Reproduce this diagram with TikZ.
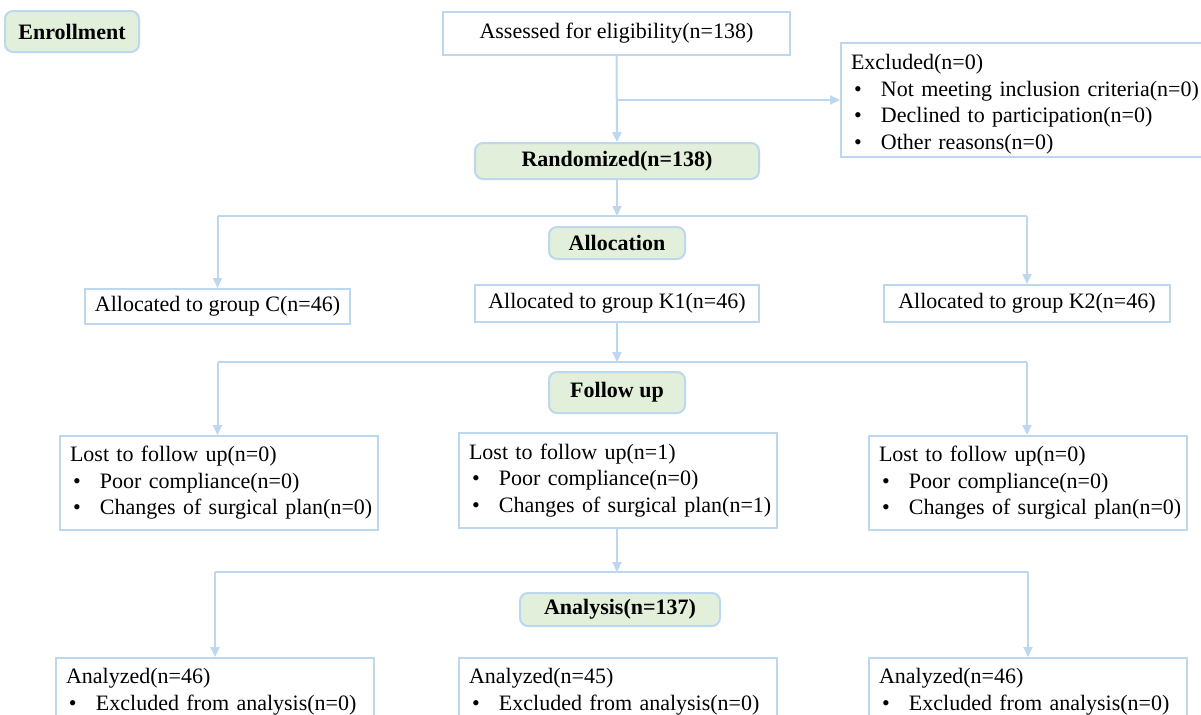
\documentclass[tikz,border=0pt]{standalone}
\usepackage{fontspec}
\setmainfont{Liberation Serif}
\usetikzlibrary{arrows.meta}
\definecolor{boxline}{RGB}{189,215,238}
\definecolor{stagefill}{RGB}{226,239,218}
\newcommand{\bitem}[1]{\\\makebox[15pt][l]{\hspace{1.5pt}\textbullet}\mbox{#1}}
\tikzset{
  box/.style={draw=boxline, line width=1pt, fill=white, inner xsep=5pt, inner ysep=2pt,
    font=\fontsize{11}{13.25}\selectfont},
  stage/.style={box, fill=stagefill, rounded corners=4pt,
    font=\fontsize{11}{13.25}\selectfont\bfseries},
  listbox/.style={box, align=left, anchor=north west, text width=149pt},
  link/.style={draw=boxline, line width=1pt},
  arr/.style={link, -{Triangle[length=5pt,width=4.5pt]}}
}
\begin{document}
\begin{tikzpicture}[x=0.5pt, y=-0.5pt]
  \useasboundingbox (0,0) rectangle (1201,714);
  \clip (0,0) rectangle (1201,714);
  % enrollment
  \node[stage, minimum width=67pt, minimum height=20.5pt] (enrol) at (72,31.5) {Enrollment};
  \node[box, minimum width=173.5pt, minimum height=21.5pt] (assess) at (616.5,33.5)
    {Assessed for eligibility(n=138)};
  \node[listbox, text width=175pt, inner ysep=0pt, minimum height=57pt] (excl) at (840,42)
    {\rule{0pt}{12pt}Excluded(n=0)\bitem{Not meeting inclusion criteria(n=0)}%
     \bitem{Declined to participation(n=0)}\bitem{Other reasons(n=0)}};
  \node[stage, minimum width=142pt, minimum height=18pt] (rand) at (617,161) {Randomized(n=138)};
  % allocation
  \node[stage, minimum width=68pt, minimum height=16pt] (alloc) at (617,243) {Allocation};
  \node[box, minimum width=131.5pt, minimum height=17.5pt] (grpC) at (217.5,306.5)
    {Allocated to group C(n=46)};
  \node[box, minimum width=142pt, minimum height=18.5pt] (grpK1) at (617,303.5)
    {Allocated to group K1(n=46)};
  \node[box, minimum width=143pt, minimum height=18.5pt] (grpK2) at (1027,303.5)
    {Allocated to group K2(n=46)};
  % follow up
  \node[stage, minimum width=68pt, minimum height=20.5pt] (follow) at (617,392.5) {Follow up};
  \node[listbox, minimum height=47pt] (lostC) at (59,435)
    {Lost to follow up(n=0)\bitem{Poor compliance(n=0)}\bitem{Changes of surgical plan(n=0)}};
  \node[listbox, minimum height=47.5pt] (lostK1) at (458,432)
    {Lost to follow up(n=1)\bitem{Poor compliance(n=0)}\bitem{Changes of surgical plan(n=1)}};
  \node[listbox, minimum height=47pt] (lostK2) at (868,435)
    {Lost to follow up(n=0)\bitem{Poor compliance(n=0)}\bitem{Changes of surgical plan(n=0)}};
  % analysis
  \node[stage, minimum width=100pt, minimum height=16.5pt] (analysis) at (620,609.5) {Analysis(n=137)};
  \node[listbox, minimum height=33.5pt] (anaC) at (55,657)
    {Analyzed(n=46)\bitem{Excluded from analysis(n=0)}};
  \node[listbox, minimum height=33.5pt] (anaK1) at (458,657)
    {Analyzed(n=45)\bitem{Excluded from analysis(n=0)}};
  \node[listbox, minimum height=33.5pt] (anaK2) at (868,657)
    {Analyzed(n=46)\bitem{Excluded from analysis(n=0)}};
  % connectors
  \coordinate (split1) at (617,216);
  \coordinate (split2) at (617,362);
  \coordinate (split3) at (617,572);
  \draw[arr] (assess.south) -- (rand.north);
  \draw[arr] (assess.south |- excl.west) -- (excl.west);
  \draw[arr] (rand.south) -- (split1);
  \draw[link] (grpC.north |- split1) -- (grpK2.north |- split1);
  \draw[arr] (grpC.north |- split1) -- (grpC.north);
  \draw[arr] (grpK2.north |- split1) -- (grpK2.north);
  \draw[arr] (grpK1.south) -- (split2);
  \draw[link] (grpC.north |- split2) -- (grpK2.north |- split2);
  \draw[arr] (grpC.north |- split2) -- (lostC.north -| grpC.north);
  \draw[arr] (grpK2.north |- split2) -- (lostK2.north -| grpK2.north);
  \draw[arr] (lostK1.south -| split3) -- (split3);
  \draw[link] (anaC.north |- split3) -- (anaK2.north |- split3);
  \draw[arr] (anaC.north |- split3) -- (anaC.north);
  \draw[arr] (anaK2.north |- split3) -- (anaK2.north);
\end{tikzpicture}
\end{document}
